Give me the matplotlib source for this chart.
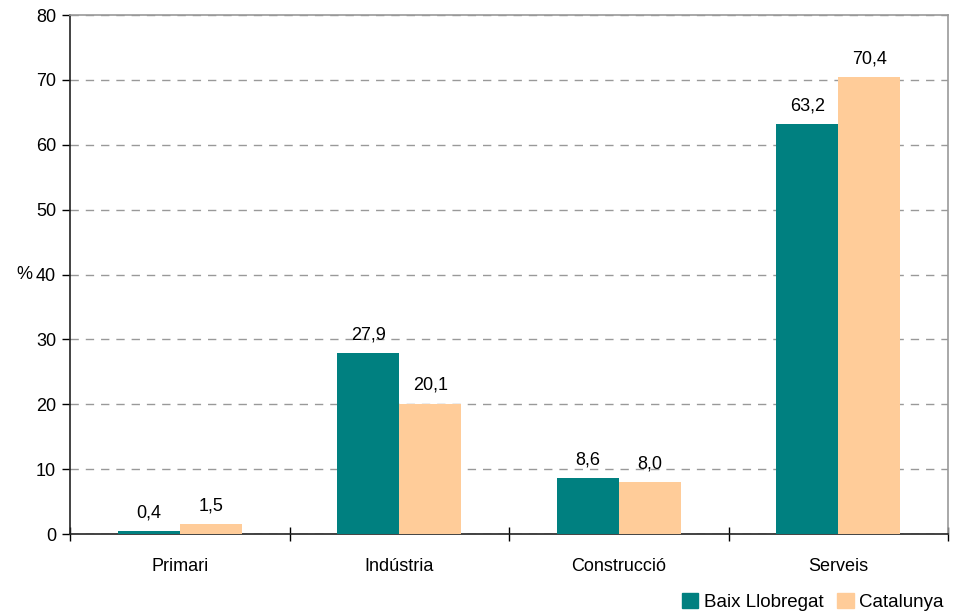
import matplotlib
matplotlib.use('Agg')
import matplotlib.pyplot as plt
import numpy as np
from matplotlib.patches import Patch

plt.rcParams['font.family'] = ['Liberation Sans', 'DejaVu Sans']

categories = ['Primari', 'Indústria', 'Construcció', 'Serveis']
baix = [0.4, 27.9, 8.6, 63.2]
catalunya = [1.5, 20.1, 8.0, 70.4]
series_names = ['Baix Llobregat', 'Catalunya']
colors = ['#008080', '#FFCC99']

fig = plt.figure(figsize=(9.55, 6.15), dpi=100)
ax = fig.add_axes([0.0733, 0.1317, 0.9194, 0.8439])

x = np.arange(len(categories))
w = 0.283
b1 = ax.bar(x - w / 2, baix, w, color=colors[0], zorder=3)
b2 = ax.bar(x + w / 2, catalunya, w, color=colors[1], zorder=3)

for bars, vals in [(b1, baix), (b2, catalunya)]:
    for rect, v in zip(bars, vals):
        ax.annotate(f'{v:.1f}'.replace('.', ','),
                    (rect.get_x() + rect.get_width() / 2, rect.get_height()),
                    xytext=(0, 7), textcoords='offset points',
                    ha='center', va='bottom', fontsize=13)

ax.set_xlim(-0.5, len(categories) - 0.5)
ax.set_ylim(0, 80)
ax.set_yticks(range(0, 81, 10))
ax.tick_params(axis='y', labelsize=13, length=6, direction='out', width=1, pad=4)

# category labels centred, tick marks at group boundaries
ax.set_xticks(x)
ax.set_xticklabels(categories, fontsize=13)
ax.tick_params(axis='x', which='major', length=0, pad=17)
ax.set_xticks(np.arange(-0.5, len(categories), 1), minor=True)
ax.tick_params(axis='x', which='minor', length=10, direction='inout', width=1)

ax.yaxis.grid(True, linestyle=(0, (6, 5)), color='#999999', linewidth=1, zorder=0)
ax.set_axisbelow(True)

for s in ['left', 'bottom']:
    ax.spines[s].set_color('#222222')
    ax.spines[s].set_linewidth(1.2)
for s in ['top', 'right']:
    ax.spines[s].set_color('#999999')
    ax.spines[s].set_linewidth(1.2)

ax.set_ylabel('%', rotation=0, fontsize=13, labelpad=8, va='center')

handles = [Patch(color=c, label=n) for c, n in zip(colors, series_names)]
fig.legend(handles=handles, loc='lower right', bbox_to_anchor=(1.0, -0.012),
           ncol=2, frameon=False, fontsize=13.5, handlelength=0.9, handleheight=0.9,
           handletextpad=0.3, columnspacing=0.7, borderaxespad=0.2)

fig.savefig('out.png', dpi=100)
